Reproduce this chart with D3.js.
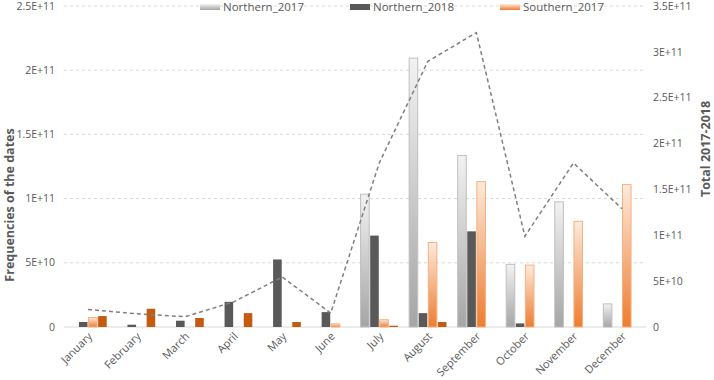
<!DOCTYPE html>
<html lang="en">
<head>
  <meta charset="utf-8">
  <title>Frequencies of the dates</title>
  <script type="text/javascript" src="https://d3js.org/d3.v7.min.js"></script>
  <style>
    body { margin: 0; background: #ffffff; }
    svg { font-family: "Open Sans", "Noto Sans", sans-serif; }
    .tick-label { fill: #595959; font-size: 10.5px; }
    .axis-title { fill: #595959; font-size: 12.5px; font-weight: bold; }
    .legend-text { fill: #595959; font-size: 11.5px; }
  </style>
</head>
<body>
  <script type="text/javascript">
    var w = 714;
    var h = 380;

    // data (values in units of 1e9)
    var months = ["January", "February", "March", "April", "May", "June",
      "July", "August", "September", "October", "November", "December"];
    var northern2017 = [0, 0, 0, 0, 0, 0, 103.4, 209.4, 133.6, 48.8, 97.5, 18];
    var northern2018 = [3.9, 1.8, 4.9, 19.6, 52.6, 11.6, 71.2, 10.8, 74.5, 2.8, 0, 0];
    var southern2017 = [7.4, 0, 0, 0, 0, 2.5, 5.7, 65.8, 113.2, 48.2, 82.3, 110.9];
    var southern2018 = [8.5, 14.2, 7, 10.8, 3.9, 0, 1, 3.9, 0, 0, 0, 0];
    var total = [19.2, 14.4, 11.2, 27.4, 54.5, 15.2, 178.8, 289.6, 321, 98.9, 178.8, 129];
    var seriesNames = ["Northern_2017", "Northern_2018", "Southern_2017", "Southern_2018"];
    var leftTicks = [0, 50, 100, 150, 200, 250];
    var leftTickLabels = ["0", "5E+10", "1E+11", "1.5E+11", "2E+11", "2.5E+11"];
    var rightTicks = [0, 50, 100, 150, 200, 250, 300, 350];
    var rightTickLabels = ["0", "5E+10", "1E+11", "1.5E+11", "2E+11", "2.5E+11", "3E+11", "3.5E+11"];

    var m = { left: 64, right: 68, top: 6, bottom: 53 };
    var plotW = w - m.left - m.right;
    var plotH = h - m.top - m.bottom;

    var svg = d3.select("body").append("svg")
      .attr("width", w)
      .attr("height", h);

    var defs = svg.append("defs");
    var g1 = defs.append("linearGradient").attr("id", "gradN17")
      .attr("x1", 0).attr("y1", 0).attr("x2", 0).attr("y2", 1);
    g1.append("stop").attr("offset", "0%").attr("stop-color", "#f2f2f2");
    g1.append("stop").attr("offset", "100%").attr("stop-color", "#a5a5a5");
    var g2 = defs.append("linearGradient").attr("id", "gradS17")
      .attr("x1", 0).attr("y1", 0).attr("x2", 0).attr("y2", 1);
    g2.append("stop").attr("offset", "0%").attr("stop-color", "#fdeadb");
    g2.append("stop").attr("offset", "100%").attr("stop-color", "#ed7d31");

    var x = d3.scaleBand().domain(months).range([m.left, m.left + plotW]).paddingInner(0.21).paddingOuter(0.1);
    var xs = d3.scaleBand().domain(seriesNames).range([0, x.bandwidth()]);
    var yL = d3.scaleLinear().domain([0, 250]).range([m.top + plotH, m.top]);
    var yR = d3.scaleLinear().domain([0, 350]).range([m.top + plotH, m.top]);

    // gridlines
    svg.selectAll("line.grid")
      .data(leftTicks.slice(1))
      .enter().append("line")
      .attr("class", "grid")
      .attr("x1", m.left).attr("x2", m.left + plotW)
      .attr("y1", function(d) { return yL(d); })
      .attr("y2", function(d) { return yL(d); })
      .attr("stroke", "#d9d9d9")
      .attr("stroke-dasharray", "3,3")
      .attr("stroke-width", 1);

    svg.append("line")
      .attr("x1", m.left).attr("x2", m.left + plotW)
      .attr("y1", yL(0)).attr("y2", yL(0))
      .attr("stroke", "#d9d9d9");

    // left ticks
    svg.selectAll("text.lt")
      .data(leftTicks)
      .enter().append("text")
      .attr("class", "tick-label")
      .attr("x", m.left - 9)
      .attr("y", function(d) { return yL(d); })
      .attr("dy", "0.35em")
      .attr("text-anchor", "end")
      .text(function(d, i) { return leftTickLabels[i]; });

    // right ticks
    svg.selectAll("text.rt")
      .data(rightTicks)
      .enter().append("text")
      .attr("class", "tick-label")
      .attr("x", m.left + plotW + 7)
      .attr("y", function(d) { return yR(d); })
      .attr("dy", "0.35em")
      .attr("text-anchor", "start")
      .text(function(d, i) { return rightTickLabels[i]; });

    // bars
    var fills = ["url(#gradN17)", "#595959", "url(#gradS17)", "#c55a11"];
    var strokes = ["#bfbfbf", "none", "#f4b183", "none"];
    var allSeries = [northern2017, northern2018, southern2017, southern2018];

    allSeries.forEach(function(vals, si) {
      svg.append("g").selectAll("rect")
        .data(vals.map(function(v, i) { return { m: months[i], v: v }; }).filter(function(d) { return d.v > 0; }))
        .enter().append("rect")
        .attr("x", function(d) { return x(d.m) + xs(seriesNames[si]) + 0.5; })
        .attr("width", xs.bandwidth() - 1)
        .attr("y", function(d) { return yL(d.v); })
        .attr("height", function(d) { return yL(0) - yL(d.v); })
        .attr("fill", fills[si])
        .attr("stroke", strokes[si])
        .attr("stroke-width", 1);
    });

    // total line
    var line = d3.line()
      .x(function(d, i) { return x(months[i]) + x.bandwidth() / 2; })
      .y(function(d) { return yR(d); });

    svg.append("path")
      .datum(total)
      .attr("d", line)
      .attr("fill", "none")
      .attr("stroke", "#7f7f7f")
      .attr("stroke-width", 1.5)
      .attr("stroke-dasharray", "4,3");

    // x labels
    svg.selectAll("text.xl")
      .data(months)
      .enter().append("text")
      .attr("class", "tick-label")
      .style("font-size", "11px")
      .attr("text-anchor", "end")
      .attr("transform", function(d) {
        return "translate(" + (x(d) + x.bandwidth() / 2 + 5) + "," + (yL(0) + 10) + ") rotate(-45)";
      })
      .text(function(d) { return d; });

    // axis titles
    svg.append("text")
      .attr("class", "axis-title")
      .attr("text-anchor", "middle")
      .attr("transform", "translate(14,205) rotate(-90)")
      .text("Frequencies of the dates");

    svg.append("text")
      .attr("class", "axis-title")
      .attr("text-anchor", "middle")
      .attr("transform", "translate(710,149) rotate(-90)")
      .text("Total 2017-2018");

    // legend
    var legendX = [200, 350, 500];
    var legendFill = ["url(#gradN17)", "#595959", "url(#gradS17)"];
    var lg = svg.append("g");
    seriesNames.slice(0, 3).forEach(function(name, i) {
      lg.append("rect")
        .attr("x", legendX[i]).attr("y", 4)
        .attr("width", 20).attr("height", 6)
        .attr("fill", legendFill[i]);
      lg.append("text")
        .attr("class", "legend-text")
        .attr("x", legendX[i] + 23).attr("y", 7)
        .attr("dy", "0.35em")
        .text(name);
    });
  </script>
</body>
</html>
